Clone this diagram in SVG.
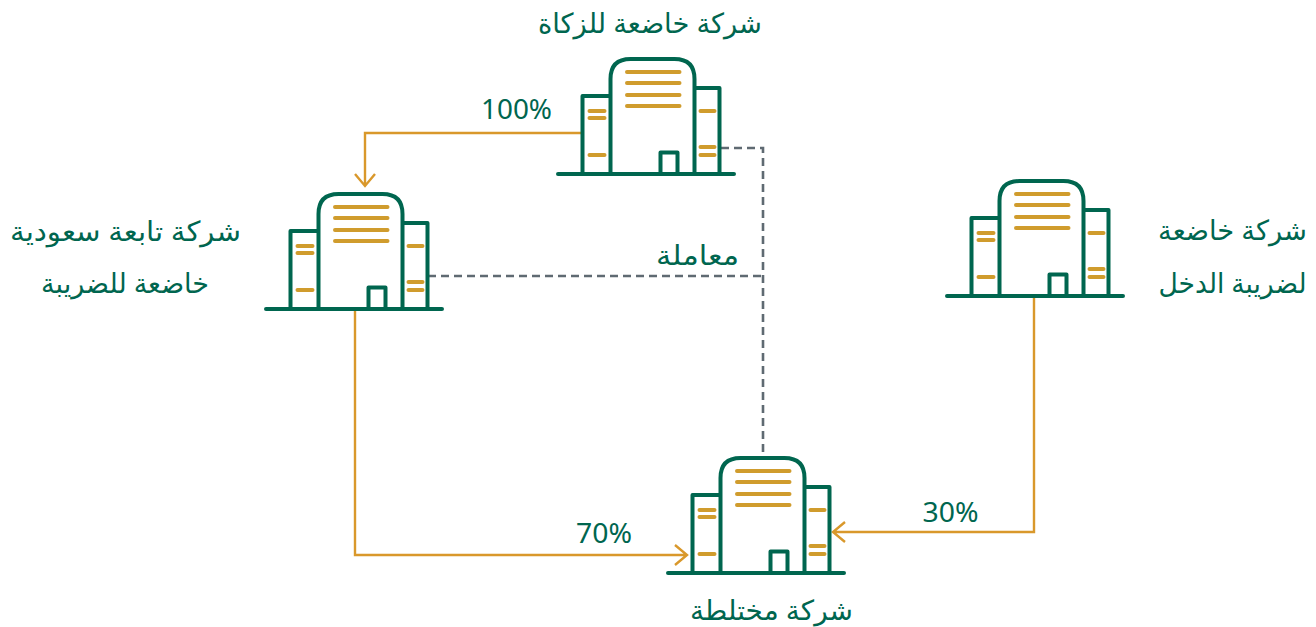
<svg xmlns="http://www.w3.org/2000/svg" width="1316" height="627" viewBox="0 0 1316 627">
<style>
.t{font-family:"Noto Sans","DejaVu Sans",sans-serif;font-size:27.5px;fill:#00664f;text-anchor:middle}
.g{fill:none;stroke:#00664f;stroke-width:4;stroke-linecap:round;stroke-linejoin:round}
.y{fill:none;stroke:#d09c2d;stroke-width:4;stroke-linecap:round}
.c{fill:none;stroke:#d9982b;stroke-width:2.4}
.d{fill:none;stroke:#5f6a72;stroke-width:2.6;stroke-dasharray:8 5}
</style>
<defs>
<g id="b">
<path class="g" d="M558 174H734M582.500 174V96H610.500M610.500 174V79Q610.500 59 630.500 59H674.500Q694.500 59 694.500 79V174M694.500 88H719.500V174M660.500 174V152.500H677.500V174"/>
<path class="y" d="M627 72H679.500M627 83H679.500M627 95H679.500M627 106H679.500M589.500 111H604.500M589.500 118H604.500M589.500 155H604.500M700.500 111H714.500M700.500 147H714.500M700.500 155H714.500"/>
</g>
</defs>
<g id="connectors">
<path class="c" d="M582 133H365V186M355 174L365 186L375 174"/>
<path class="c" d="M355 310V555H686M675 545L687 555L675 565"/>
<path class="c" d="M1034 297V532H833M845 522L833 532L845 542"/>
<path class="d" d="M721 148H763V457M428 276H763"/>
</g>
<g id="node-zakat"><use href="#b"/><text class="t" x="650" y="33" textLength="224" lengthAdjust="spacingAndGlyphs">شركة خاضعة للزكاة</text></g>
<g id="node-saudi"><use href="#b" x="-292" y="135"/><text class="t" x="125.500" y="241" textLength="231" lengthAdjust="spacingAndGlyphs">شركة تابعة سعودية</text><text class="t" x="125" y="293" textLength="168" lengthAdjust="spacingAndGlyphs">خاضعة للضريبة</text></g>
<g id="node-income"><use href="#b" x="389" y="122"/><text class="t" x="1232.500" y="240" textLength="149" lengthAdjust="spacingAndGlyphs">شركة خاضعة</text><text class="t" x="1232.500" y="293" textLength="148" lengthAdjust="spacingAndGlyphs">لضريبة الدخل</text></g>
<g id="node-mixed"><use href="#b" x="110" y="399"/><text class="t" x="771.500" y="620" textLength="163" lengthAdjust="spacingAndGlyphs">شركة مختلطة</text></g>
<g id="labels">
<text class="t" x="516.500" y="119" textLength="71" lengthAdjust="spacingAndGlyphs">100%</text>
<text class="t" x="697.500" y="265" textLength="83" lengthAdjust="spacingAndGlyphs">معاملة</text>
<text class="t" x="604" y="543" textLength="56" lengthAdjust="spacingAndGlyphs">70%</text>
<text class="t" x="950.500" y="522" textLength="56" lengthAdjust="spacingAndGlyphs">30%</text>
</g>
</svg>
